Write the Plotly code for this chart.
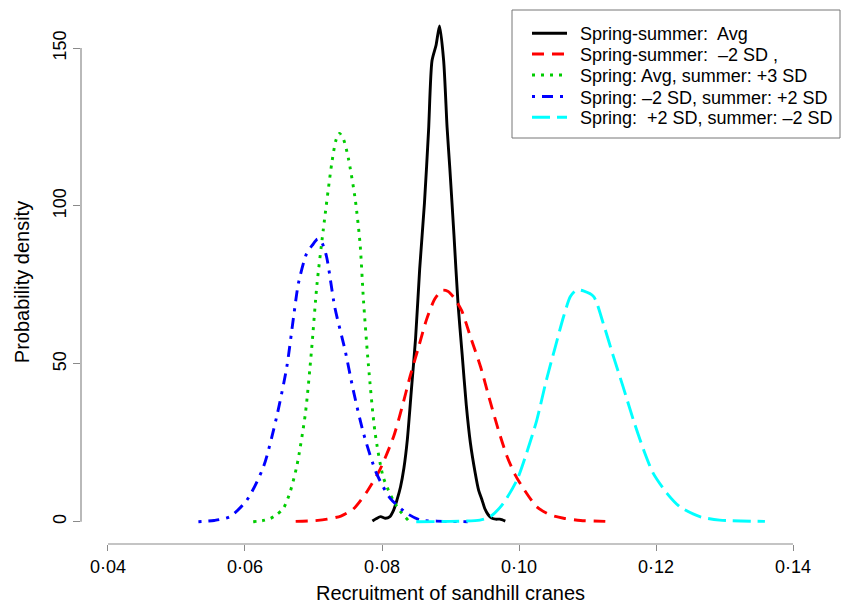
import plotly.graph_objects as go

# ---- data ----
x_avg = [0.0786, 0.0792, 0.0798, 0.0805, 0.0811, 0.0817, 0.0822, 0.0827, 0.0832, 0.0837,
         0.0843, 0.0849, 0.0855, 0.0862, 0.0868, 0.0873, 0.0879, 0.0884, 0.0890, 0.0895,
         0.0899, 0.0905, 0.0911, 0.0917, 0.0923, 0.0929, 0.0936, 0.0941, 0.0946, 0.0950,
         0.0955, 0.0960, 0.0966, 0.0972, 0.0980]
y_avg = [0.2, 1.0, 1.6, 1.1, 1.5, 3.7, 7, 11, 17, 26,
         42, 58, 80, 101, 124, 146, 151, 157, 146, 125,
         112, 91, 69, 53, 37, 25, 15.5, 10, 6.9, 4.2,
         2.2, 1.2, 0.8, 0.8, 0.2]

x_m2 = [0.0674, 0.0700, 0.0720, 0.0740, 0.0758, 0.0778, 0.0797, 0.0817, 0.0829, 0.0841,
        0.0853, 0.0865, 0.0877, 0.0888, 0.0896, 0.0905, 0.0916, 0.0930, 0.0944, 0.0958,
        0.0970, 0.0982, 0.0994, 0.1008, 0.1026, 0.1045, 0.1065, 0.1090, 0.1126]
y_m2 = [0.1, 0.3, 0.8, 1.8, 4.0, 9.5, 16.5, 27, 36, 46,
        55, 64, 70.5, 73.3, 73, 71, 67, 58, 49, 38,
        29, 21, 15, 10, 4.7, 2.2, 1.1, 0.4, 0.1]

x_p3 = [0.0612, 0.0625, 0.0637, 0.0646, 0.0656, 0.0666, 0.0676, 0.0688, 0.0697, 0.0705,
        0.0714, 0.0727, 0.0733, 0.0738, 0.0744, 0.0751, 0.0761, 0.0768, 0.0773, 0.0780,
        0.0790, 0.0802, 0.0817, 0.0826, 0.0838]
y_p3 = [0.0, 0.3, 1.0, 2.2, 4.2, 9.5, 18, 34, 54, 75,
        92, 114, 121, 123, 121, 115, 102, 88, 70, 50,
        28, 14, 6.5, 3.5, 0.5]

x_m2p2 = [0.0532, 0.0555, 0.0578, 0.0603, 0.0627, 0.0646, 0.0661, 0.0671, 0.0678, 0.0690,
          0.0698, 0.0706, 0.0712, 0.0719, 0.0731, 0.0746, 0.0758, 0.0773, 0.0792, 0.0812,
          0.0836, 0.0856, 0.0880, 0.0925]
y_m2p2 = [0.0, 0.4, 1.6, 6.9, 17.4, 33, 49, 65, 75.5, 85,
          87.5, 89.5, 88.5, 84, 68, 54.4, 41.7, 28, 15.3, 7.4,
          2.7, 0.5, 0.2, 0.0]

x_p2m2 = [0.0850, 0.0900, 0.0943, 0.0958, 0.0977, 0.0997, 0.1011, 0.1026, 0.1040, 0.1053,
          0.1065, 0.1075, 0.1084, 0.1094, 0.1109, 0.1123, 0.1138, 0.1152, 0.1167, 0.1182,
          0.1196, 0.1216, 0.1235, 0.1264, 0.1293, 0.1359]
y_p2m2 = [0.0, 0.1, 0.5, 1.6, 5.8, 13.2, 21.7, 32.2, 44.9, 55.4,
          64.9, 71.3, 73.4, 73.1, 71.3, 62.8, 52.2, 42.7, 32.2, 22.7,
          15.3, 9.0, 4.7, 1.6, 0.5, 0.1]

names = ["Spring-summer:  Avg",
         "Spring-summer:  –2 SD ,",
         "Spring: Avg, summer: +3 SD",
         "Spring: –2 SD, summer: +2 SD",
         "Spring:  +2 SD, summer: –2 SD"]

x_ticks = [0.04, 0.06, 0.08, 0.10, 0.12, 0.14]
x_ticktext = ["0·04", "0·06", "0·08", "0·10", "0·12", "0·14"]
y_ticks = [0, 50, 100, 150]

FONT = "Liberation Sans, Arial, Helvetica, sans-serif"
AXC = "#8a8a8a"
W, H = 844, 604
ML, MR, MT, MB = 81, 24, 20, 60

series = [
    (x_avg, y_avg, "black", "solid"),
    (x_m2, y_m2, "#ff0000", "12px,8px"),
    (x_p3, y_p3, "#00cc00", "3px,6px"),
    (x_m2p2, y_m2p2, "#0000ff", "3px,7px,11px,7px"),
    (x_p2m2, y_p2m2, "#00ffff", "18px,7px"),
]

fig = go.Figure()
for (xs, ys, col, dash), nm in zip(series, names):
    fig.add_trace(go.Scatter(x=xs, y=ys, mode="lines", name=nm, showlegend=False,
                             line=dict(color=col, width=2.9, dash=dash,
                                       shape="spline", smoothing=0.7)))

fig.update_layout(
    width=W, height=H,
    margin=dict(l=ML, r=MR, t=MT, b=MB),
    paper_bgcolor="white", plot_bgcolor="white",
    font=dict(family=FONT, size=17, color="black"),
    showlegend=False,
    xaxis=dict(range=[0.03606, 0.14394], tickvals=x_ticks, ticktext=x_ticktext,
               ticks="outside", ticklen=6, tickcolor=AXC, tickwidth=1.2,
               showgrid=False, zeroline=False, showline=False, automargin=False,
               title=dict(text="Recruitment of sandhill cranes", standoff=14),
               tickfont=dict(size=18)),
    yaxis=dict(range=[-7.06, 158.9], tickvals=y_ticks, tickangle=-90,
               ticks="outside", ticklen=7, tickcolor=AXC, tickwidth=1.2,
               showgrid=False, zeroline=False, showline=False, automargin=False,
               title=dict(text="Probability density", standoff=14),
               tickfont=dict(size=18)),
)

# R-style axis lines spanning only the tick range
fig.add_shape(type="line", xref="x", yref="paper", x0=x_ticks[0], x1=x_ticks[-1], y0=0, y1=0,
              line=dict(color=AXC, width=1.2))
fig.add_shape(type="line", xref="paper", yref="y", x0=0, x1=0, y0=y_ticks[0], y1=y_ticks[-1],
              line=dict(color=AXC, width=1.2))

# ---- manual legend (pixel layout -> paper coords) ----
PW, PH = W - ML - MR, H - MT - MB
def px(x):
    return (x - ML) / PW
def py(y):
    return (H - MB - y) / PH

fig.add_shape(type="rect", xref="paper", yref="paper",
              x0=px(512), x1=px(840), y0=py(138), y1=py(10),
              line=dict(color="#777777", width=1), fillcolor="white", layer="above")
rows = [33.3, 54, 75, 96.5, 117.3]
for (xs, ys, col, dash), nm, ry in zip(series, names, rows):
    fig.add_shape(type="line", xref="paper", yref="paper",
                  x0=px(532), x1=px(567), y0=py(ry), y1=py(ry),
                  line=dict(color=col, width=2.9, dash=dash), layer="above")
    fig.add_annotation(xref="paper", yref="paper", x=px(578), y=py(ry + 1),
                       text=nm, showarrow=False, xanchor="left", yanchor="middle",
                       font=dict(size=18, family=FONT, color="black"))

fig.write_html("out.html")
